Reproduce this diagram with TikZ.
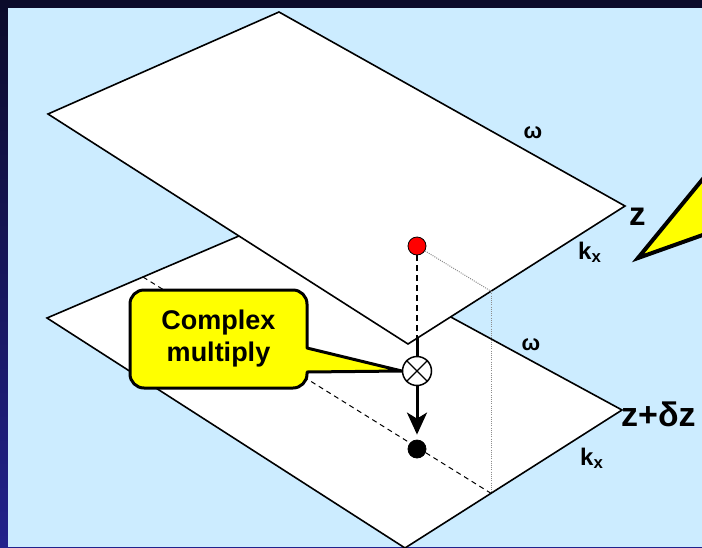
\documentclass[tikz,border=0pt]{standalone}
\usepackage{fontspec}
\setmainfont{Liberation Sans}
\usetikzlibrary{arrows.meta}
\definecolor{bgblue}{HTML}{CCECFF}
\definecolor{navytop}{HTML}{0B0B2A}
\definecolor{navybot}{HTML}{22228C}
\definecolor{cyellow}{HTML}{FFFF00}
\tikzset{
  plane/.style={fill=white,draw=black,line width=1.6pt,line join=miter},
  callout/.style={fill=cyellow,draw=black,line width=3pt,line join=round},
  lbl/.style={font=\bfseries,inner sep=0pt},
  guide/.style={draw=black!45,line width=1pt,dash pattern=on 1pt off 1.2pt},
  dashguide/.style={draw=black,line width=1pt,dash pattern=on 5pt off 4pt},
  reddash/.style={draw=black,line width=1.6pt,dash pattern=on 6pt off 4pt},
  dotnode/.style={circle,draw=black,line width=0.8pt,minimum size=18pt,inner sep=0pt},
}
\begin{document}
\begin{tikzpicture}[x=1pt,y=-1pt]
\useasboundingbox (0,0) rectangle (702,547);
% background and frame
\shade[top color=navytop,bottom color=navybot] (0,0) rectangle (702,547);
\fill[bgblue] (8,8) rectangle (702,547);

% lower plane (z + dz)
\filldraw[plane] (47,318) -- (274,221) -- (622,410) -- (405,548) -- cycle;
\coordinate (dstart) at (143,277);
\coordinate (pl) at (491,493.3);
\draw[dashguide] (dstart) -- (pl);

% upper plane (z)
\filldraw[plane] (48,114) -- (279,12) -- (625,206) -- (408,344) -- cycle;
\coordinate (pu) at (491,291.2);
\coordinate (pe) at (417,338.3);

% points
\node[dotnode,fill=red] (rdot) at (417,246) {};
\node[dotnode,fill=black] (bdot) at (417,449) {};
\node[circle,draw=black,fill=white,line width=1.5pt,minimum size=29pt,inner sep=0pt] (mul) at (417,371) {};
\draw[line width=1.2pt] (mul.north west) -- (mul.south east) (mul.north east) -- (mul.south west);

% guides
\draw[guide] (rdot) -- (pu);
\draw[guide] (pu) -- (pl);
\draw[reddash] (rdot.south) -- (pe);
\draw[line width=3pt] (pe) -- (mul.north);
\draw[line width=3pt,-{Stealth[length=22pt,width=20pt,inset=6pt]},shorten >=5pt] (mul.south) -- (bdot.north);

% callout
\filldraw[callout] (144,290) -- (293,290) arc[start angle=270,end angle=360,radius=14]
  -- (307,348) -- (mul.west) -- (307,372) -- (307,374)
  arc[start angle=0,end angle=90,radius=14] -- (144,388)
  arc[start angle=90,end angle=180,radius=14] -- (130,304)
  arc[start angle=180,end angle=270,radius=14] -- cycle;
\node[lbl,align=center,font=\bfseries\fontsize{27}{32}\selectfont] (cmtext) at (218.5,339) {Complex\\multiply};

% right callout (cut off)
\filldraw[callout,line width=4pt,line join=miter] (638,258) -- (712,167.8) -- (712,231.7) -- cycle;

% labels
\node[lbl,font=\bfseries\fontsize{22}{22}\selectfont] (w1) at (533,133) {ω};
\node[lbl,font=\bfseries\fontsize{22}{22}\selectfont] (w2) at (531,345) {ω};
\node[lbl,font=\bfseries\fontsize{24}{24}\selectfont,anchor=base west] (k1) at (578,259) {k\textsubscript{x}};
\node[lbl,font=\bfseries\fontsize{24}{24}\selectfont,anchor=base west] (k2) at (580,465) {k\textsubscript{x}};
\node[lbl,font=\bfseries\fontsize{33}{33}\selectfont,anchor=base west] (z1) at (629,225) {z};
\node[lbl,font=\bfseries\fontsize{34}{34}\selectfont,anchor=base west] (z2) at (621,426) {z+δz};
\end{tikzpicture}
\end{document}
